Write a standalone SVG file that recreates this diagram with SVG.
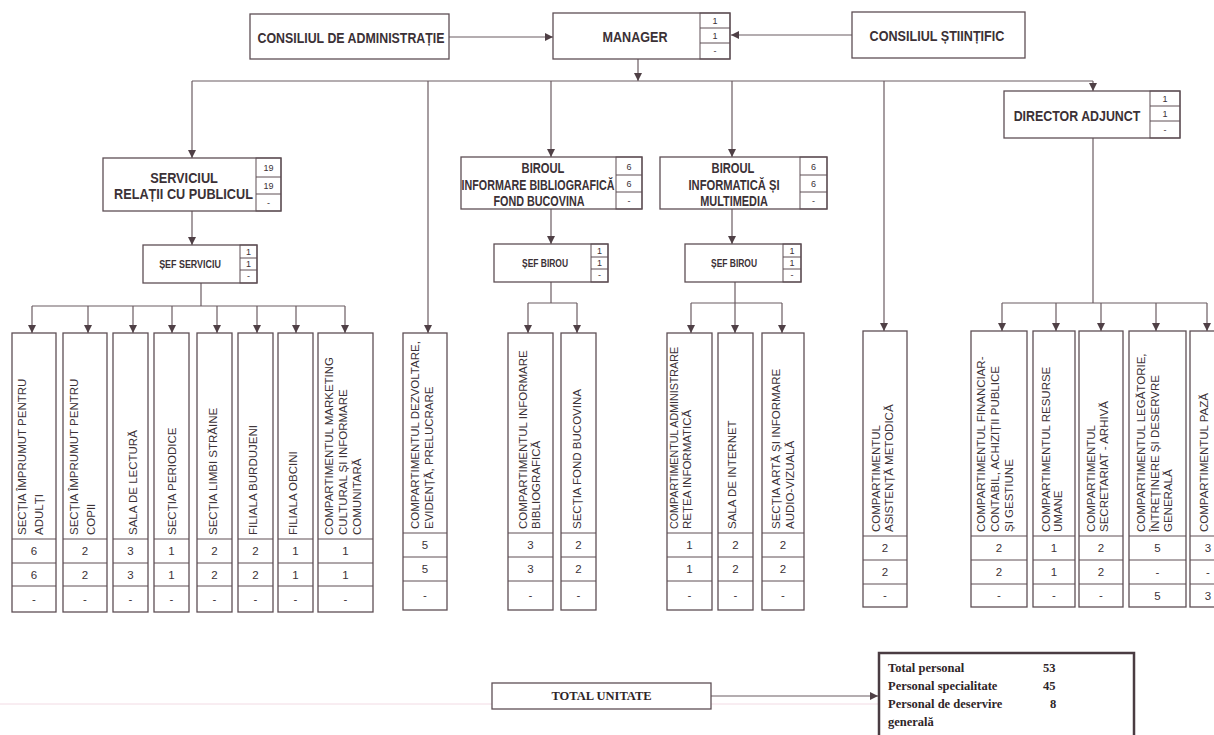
<svg xmlns="http://www.w3.org/2000/svg" width="1214" height="735" viewBox="0 0 1214 735">
<defs>
<style>
.b{fill:#fff;stroke:#5e4f55;stroke-width:1.3}
.d{fill:none;stroke:#5e4f55;stroke-width:1}
.c{fill:none;stroke:#6b5c62;stroke-width:1.2}
.t{font-family:'Liberation Sans',Arial,sans-serif;font-weight:bold;fill:#3b3136;text-anchor:middle}
.v{font-family:'Liberation Sans',Arial,sans-serif;font-size:11.5px;fill:#3b3136}
.n{font-family:'Liberation Sans',Arial,sans-serif;font-size:11.5px;fill:#3b3136;text-anchor:middle}
.s{font-family:'Liberation Sans',Arial,sans-serif;font-size:9px;fill:#3b3136;text-anchor:middle}
.tb{font-family:'Liberation Serif','Times New Roman',serif;font-weight:bold;font-size:12.5px;fill:#2e2528}
</style>
<marker id="ah" viewBox="0 0 10 10" refX="10" refY="5" markerWidth="10" markerHeight="8" orient="auto" markerUnits="userSpaceOnUse"><path d="M0,0 L10,5 L0,10 z" fill="#4f4046"/></marker>
</defs>
<rect width="1214" height="735" fill="#fff"/>
<line x1="0" y1="704" x2="878" y2="704" stroke="#f2dbe4" stroke-width="1"/>

<g id="connectors" class="c">
<path d="M449,37 H553" marker-end="url(#ah)"/>
<path d="M852,35 H731" marker-end="url(#ah)"/>
<path d="M638,59 V81" marker-end="url(#ah)"/>
<path d="M192,81 H1093"/>
<path d="M192,81 V158" marker-end="url(#ah)"/>
<path d="M1093,81 V91" marker-end="url(#ah)"/>
<path d="M428,81 V333" marker-end="url(#ah)"/>
<path d="M551,81 V157" marker-end="url(#ah)"/>
<path d="M732,81 V157" marker-end="url(#ah)"/>
<path d="M884,81 V331" marker-end="url(#ah)"/>
<path d="M192,211 V245" marker-end="url(#ah)"/>
<path d="M201,283 V306"/>
<path d="M32,306 H345"/>
<path d="M32,306 V333" marker-end="url(#ah)"/>
<path d="M88,306 V333" marker-end="url(#ah)"/>
<path d="M133,306 V333" marker-end="url(#ah)"/>
<path d="M172,306 V333" marker-end="url(#ah)"/>
<path d="M217,306 V333" marker-end="url(#ah)"/>
<path d="M257,306 V333" marker-end="url(#ah)"/>
<path d="M296,306 V333" marker-end="url(#ah)"/>
<path d="M345,306 V333" marker-end="url(#ah)"/>
<path d="M551,209 V244" marker-end="url(#ah)"/>
<path d="M551,282 V303"/>
<path d="M528,303 H577"/>
<path d="M528,303 V333" marker-end="url(#ah)"/>
<path d="M577,303 V333" marker-end="url(#ah)"/>
<path d="M732,209 V244" marker-end="url(#ah)"/>
<path d="M735,282 V303"/>
<path d="M691,303 H782"/>
<path d="M691,303 V333" marker-end="url(#ah)"/>
<path d="M735,303 V333" marker-end="url(#ah)"/>
<path d="M782,303 V333" marker-end="url(#ah)"/>
<path d="M1093,138 V303"/>
<path d="M1002,303 H1207"/>
<path d="M1002,303 V331" marker-end="url(#ah)"/>
<path d="M1056,303 V331" marker-end="url(#ah)"/>
<path d="M1101,303 V331" marker-end="url(#ah)"/>
<path d="M1156,303 V331" marker-end="url(#ah)"/>
<path d="M1207,303 V331" marker-end="url(#ah)"/>
<path d="M711,696 H878" marker-end="url(#ah)"/>
</g>

<g id="consiliul-administratie">
<rect class="b" x="250" y="14" width="199" height="45"/>
<text class="t" font-size="15" transform="translate(351,42.5) scale(0.826,1)">CONSILIUL DE ADMINISTRAȚIE</text>
</g>
<g id="manager">
<rect class="b" x="553" y="13" width="177" height="46"/>
<rect class="d" x="700" y="13" width="30" height="46"/>
<path class="d" d="M700,28 H730 M700,43 H730"/>
<text class="t" font-size="15" transform="translate(635,42) scale(0.84,1)">MANAGER</text>
<text class="s" x="715" y="24">1</text><text class="s" x="715" y="39">1</text><text class="s" x="715" y="54">-</text>
</g>
<g id="consiliul-stiintific">
<rect class="b" x="852" y="12" width="173" height="46"/>
<text class="t" font-size="15" transform="translate(937,40.5) scale(0.84,1)">CONSILIUL ȘTIINȚIFIC</text>
</g>
<g id="director-adjunct">
<rect class="b" x="1004" y="91" width="176" height="47"/>
<rect class="d" x="1150" y="91" width="30" height="47"/>
<path class="d" d="M1150,106 H1180 M1150,121 H1180"/>
<text class="t" font-size="15" transform="translate(1077,121) scale(0.827,1)">DIRECTOR ADJUNCT</text>
<text class="s" x="1165" y="102">1</text><text class="s" x="1165" y="117">1</text><text class="s" x="1165" y="133">-</text>
</g>
<g id="serviciul">
<rect class="b" x="103" y="158" width="178" height="53"/>
<rect class="d" x="256" y="158" width="25" height="53"/>
<path class="d" d="M256,177 H281 M256,194 H281"/>
<text class="t" font-size="14.5" transform="translate(184,183) scale(0.88,1)">SERVICIUL</text>
<text class="t" font-size="14.5" transform="translate(183.5,198.5) scale(0.876,1)">RELAȚII CU PUBLICUL</text>
<text class="s" x="268.5" y="171" font-size="10">19</text><text class="s" x="268.5" y="189" font-size="10">19</text><text class="s" x="268.5" y="206">-</text>
</g>
<g id="sef-serviciu">
<rect class="b" x="143" y="245" width="114" height="38"/>
<rect class="d" x="240" y="245" width="17" height="38"/>
<path class="d" d="M240,258 H257 M240,270 H257"/>
<text class="t" font-size="11" transform="translate(190,268) scale(0.81,1)">ȘEF SERVICIU</text>
<text class="s" x="248.5" y="255" font-size="8">1</text><text class="s" x="248.5" y="267" font-size="8">1</text><text class="s" x="248.5" y="279" font-size="8">-</text>
</g>
<g id="biroul-informare">
<rect class="b" x="461" y="157" width="181" height="52"/>
<rect class="d" x="616" y="157" width="26" height="52"/>
<path class="d" d="M616,175 H642 M616,192 H642"/>
<text class="t" font-size="14" transform="translate(543,173) scale(0.8,1)">BIROUL</text>
<text class="t" font-size="14" transform="translate(538,190) scale(0.765,1)">INFORMARE BIBLIOGRAFICĂ</text>
<text class="t" font-size="14" transform="translate(539,206) scale(0.77,1)">FOND BUCOVINA</text>
<text class="s" x="629" y="170">6</text><text class="s" x="629" y="187">6</text><text class="s" x="629" y="204">-</text>
</g>
<g id="biroul-informatica">
<rect class="b" x="660" y="157" width="167" height="52"/>
<rect class="d" x="800" y="157" width="27" height="52"/>
<path class="d" d="M800,175 H827 M800,192 H827"/>
<text class="t" font-size="14" transform="translate(733,173) scale(0.8,1)">BIROUL</text>
<text class="t" font-size="14" transform="translate(734,190) scale(0.8,1)">INFORMATICĂ ȘI</text>
<text class="t" font-size="14" transform="translate(734,206) scale(0.78,1)">MULTIMEDIA</text>
<text class="s" x="813.5" y="170">6</text><text class="s" x="813.5" y="187">6</text><text class="s" x="813.5" y="204">-</text>
</g>
<g id="sef-birou-1">
<rect class="b" x="494" y="244" width="114" height="38"/>
<rect class="d" x="591" y="244" width="17" height="38"/>
<path class="d" d="M591,257 H608 M591,269 H608"/>
<text class="t" font-size="11" transform="translate(545,267) scale(0.77,1)">ȘEF BIROU</text>
<text class="s" x="599.5" y="254" font-size="8">1</text><text class="s" x="599.5" y="266" font-size="8">1</text><text class="s" x="599.5" y="278" font-size="8">-</text>
</g>
<g id="sef-birou-2">
<rect class="b" x="685" y="244" width="116" height="38"/>
<rect class="d" x="783" y="244" width="18" height="38"/>
<path class="d" d="M783,257 H801 M783,269 H801"/>
<text class="t" font-size="11" transform="translate(734,267) scale(0.77,1)">ȘEF BIROU</text>
<text class="s" x="792" y="254" font-size="8">1</text><text class="s" x="792" y="266" font-size="8">1</text><text class="s" x="792" y="278" font-size="8">-</text>
</g>

<g id="col-adulti">
<rect class="b" x="12" y="333" width="44" height="279"/>
<path class="d" d="M12,539 H56 M12,563 H56 M12,586 H56"/>
<text class="v" transform="translate(26,535) rotate(-90)">SECȚIA ÎMPRUMUT PENTRU<tspan x="0" dy="17">ADULȚI</tspan></text>
<text class="n" x="34" y="555">6</text><text class="n" x="34" y="579">6</text><text class="n" x="34" y="603">-</text>
</g>
<g id="col-copii">
<rect class="b" x="63" y="333" width="44" height="279"/>
<path class="d" d="M63,539 H107 M63,563 H107 M63,586 H107"/>
<text class="v" transform="translate(78,535) rotate(-90)">SECȚIA ÎMPRUMUT PENTRU<tspan x="0" dy="17">COPII</tspan></text>
<text class="n" x="85" y="555">2</text><text class="n" x="85" y="579">2</text><text class="n" x="85" y="603">-</text>
</g>
<g id="col-lectura">
<rect class="b" x="113" y="333" width="35" height="279"/>
<path class="d" d="M113,539 H148 M113,563 H148 M113,586 H148"/>
<text class="v" transform="translate(137,535) rotate(-90)">SALA DE LECTURĂ</text>
<text class="n" x="130.5" y="555">3</text><text class="n" x="130.5" y="579">3</text><text class="n" x="130.5" y="603">-</text>
</g>
<g id="col-periodice">
<rect class="b" x="154" y="333" width="35" height="279"/>
<path class="d" d="M154,539 H189 M154,563 H189 M154,586 H189"/>
<text class="v" transform="translate(176,535) rotate(-90)">SECȚIA PERIODICE</text>
<text class="n" x="171.5" y="555">1</text><text class="n" x="171.5" y="579">1</text><text class="n" x="171.5" y="603">-</text>
</g>
<g id="col-limbi">
<rect class="b" x="197" y="333" width="35" height="279"/>
<path class="d" d="M197,539 H232 M197,563 H232 M197,586 H232"/>
<text class="v" transform="translate(217,535) rotate(-90)">SECȚIA LIMBI STRĂINE</text>
<text class="n" x="214.5" y="555">2</text><text class="n" x="214.5" y="579">2</text><text class="n" x="214.5" y="603">-</text>
</g>
<g id="col-burdujeni">
<rect class="b" x="238" y="333" width="35" height="279"/>
<path class="d" d="M238,539 H273 M238,563 H273 M238,586 H273"/>
<text class="v" transform="translate(257,535) rotate(-90)">FILIALA BURDUJENI</text>
<text class="n" x="255.5" y="555">2</text><text class="n" x="255.5" y="579">2</text><text class="n" x="255.5" y="603">-</text>
</g>
<g id="col-obcini">
<rect class="b" x="278" y="333" width="35" height="279"/>
<path class="d" d="M278,539 H313 M278,563 H313 M278,586 H313"/>
<text class="v" transform="translate(297,535) rotate(-90)">FILIALA OBCINI</text>
<text class="n" x="295.5" y="555">1</text><text class="n" x="295.5" y="579">1</text><text class="n" x="295.5" y="603">-</text>
</g>
<g id="col-marketing">
<rect class="b" x="318" y="333" width="55" height="279"/>
<path class="d" d="M318,539 H373 M318,563 H373 M318,586 H373"/>
<text class="v" transform="translate(333,535) rotate(-90)">COMPARTIMENTUL MARKETING<tspan x="0" dy="14">CULTURAL ȘI INFORMARE</tspan><tspan x="0" dy="14">COMUNITARĂ</tspan></text>
<text class="n" x="345.5" y="555">1</text><text class="n" x="345.5" y="579">1</text><text class="n" x="345.5" y="603">-</text>
</g>

<g id="col-dezvoltare">
<rect class="b" x="403" y="333" width="44" height="277"/>
<path class="d" d="M403,533 H447 M403,557 H447 M403,581 H447"/>
<text class="v" transform="translate(419,529) rotate(-90)">COMPARTIMENTUL DEZVOLTARE,<tspan x="0" dy="14">EVIDENȚĂ, PRELUCRARE</tspan></text>
<text class="n" x="425" y="549">5</text><text class="n" x="425" y="573">5</text><text class="n" x="425" y="599">-</text>
</g>
<g id="col-informare-bibliografica">
<rect class="b" x="508" y="333" width="45" height="277"/>
<path class="d" d="M508,533 H553 M508,557 H553 M508,581 H553"/>
<text class="v" transform="translate(527,529) rotate(-90)">COMPARTIMENTUL INFORMARE<tspan x="0" dy="13">BIBLIOGRAFICĂ</tspan></text>
<text class="n" x="530.5" y="549">3</text><text class="n" x="530.5" y="573">3</text><text class="n" x="530.5" y="599">-</text>
</g>
<g id="col-fond-bucovina">
<rect class="b" x="561" y="333" width="35" height="277"/>
<path class="d" d="M561,533 H596 M561,557 H596 M561,581 H596"/>
<text class="v" transform="translate(581,529) rotate(-90)">SECȚIA FOND BUCOVINA</text>
<text class="n" x="578.5" y="549">2</text><text class="n" x="578.5" y="573">2</text><text class="n" x="578.5" y="599">-</text>
</g>
<g id="col-retea">
<rect class="b" x="667" y="333" width="45" height="277"/>
<path class="d" d="M667,533 H712 M667,557 H712 M667,581 H712"/>
<text class="v" transform="translate(678,529) rotate(-90) scale(0.93,1)">COMPARTIMENTUL ADMINISTRARE</text>
<text class="v" transform="translate(691,529) rotate(-90)">REȚEA INFORMATICĂ</text>
<text class="n" x="689.5" y="549">1</text><text class="n" x="689.5" y="573">1</text><text class="n" x="689.5" y="599">-</text>
</g>
<g id="col-internet">
<rect class="b" x="718" y="333" width="35" height="277"/>
<path class="d" d="M718,533 H753 M718,557 H753 M718,581 H753"/>
<text class="v" transform="translate(736,529) rotate(-90)">SALA DE INTERNET</text>
<text class="n" x="735.5" y="549">2</text><text class="n" x="735.5" y="573">2</text><text class="n" x="735.5" y="599">-</text>
</g>
<g id="col-arta">
<rect class="b" x="762" y="333" width="42" height="277"/>
<path class="d" d="M762,533 H804 M762,557 H804 M762,581 H804"/>
<text class="v" transform="translate(780,529) rotate(-90)">SECȚIA ARTĂ ȘI INFORMARE<tspan x="0" dy="14">AUDIO-VIZUALĂ</tspan></text>
<text class="n" x="783" y="549">2</text><text class="n" x="783" y="573">2</text><text class="n" x="783" y="599">-</text>
</g>

<g id="col-asistenta">
<rect class="b" x="863" y="331" width="44" height="276"/>
<path class="d" d="M863,536 H907 M863,560 H907 M863,584 H907"/>
<text class="v" transform="translate(880,532) rotate(-90)">COMPARTIMENTUL<tspan x="0" dy="13">ASISTENȚĂ METODICĂ</tspan></text>
<text class="n" x="885" y="552">2</text><text class="n" x="885" y="576">2</text><text class="n" x="885" y="599">-</text>
</g>
<g id="col-financiar">
<rect class="b" x="971" y="331" width="56" height="276"/>
<path class="d" d="M971,536 H1027 M971,560 H1027 M971,584 H1027"/>
<text class="v" transform="translate(985,532) rotate(-90)">COMPARTIMENTUL FINANCIAR-<tspan x="0" dy="14">CONTABIL, ACHIZIȚII PUBLICE</tspan><tspan x="0" dy="14">ȘI GESTIUNE</tspan></text>
<text class="n" x="999" y="552">2</text><text class="n" x="999" y="576">2</text><text class="n" x="999" y="599">-</text>
</g>
<g id="col-resurse-umane">
<rect class="b" x="1033" y="331" width="42" height="276"/>
<path class="d" d="M1033,536 H1075 M1033,560 H1075 M1033,584 H1075"/>
<text class="v" transform="translate(1050,532) rotate(-90)">COMPARTIMENTUL RESURSE<tspan x="0" dy="12">UMANE</tspan></text>
<text class="n" x="1054" y="552">1</text><text class="n" x="1054" y="576">1</text><text class="n" x="1054" y="599">-</text>
</g>
<g id="col-secretariat">
<rect class="b" x="1079" y="331" width="44" height="276"/>
<path class="d" d="M1079,536 H1123 M1079,560 H1123 M1079,584 H1123"/>
<text class="v" transform="translate(1095,532) rotate(-90)">COMPARTIMENTUL<tspan x="0" dy="13">SECRETARIAT - ARHIVĂ</tspan></text>
<text class="n" x="1101" y="552">2</text><text class="n" x="1101" y="576">2</text><text class="n" x="1101" y="599">-</text>
</g>
<g id="col-legatorie">
<rect class="b" x="1129" y="331" width="57" height="276"/>
<path class="d" d="M1129,536 H1186 M1129,560 H1186 M1129,584 H1186"/>
<text class="v" transform="translate(1145,532) rotate(-90)">COMPARTIMENTUL LEGĂTORIE,<tspan x="0" dy="14">ÎNTREȚINERE ȘI DESERVRE</tspan><tspan x="0" dy="13">GENERALĂ</tspan></text>
<text class="n" x="1157.5" y="552">5</text><text class="n" x="1157.5" y="576">-</text><text class="n" x="1157.5" y="600">5</text>
</g>
<g id="col-paza">
<rect class="b" x="1190" y="331" width="40" height="276"/>
<path class="d" d="M1190,536 H1230 M1190,560 H1230 M1190,584 H1230"/>
<text class="v" transform="translate(1208,532) rotate(-90)">COMPARTIMENTUL PAZĂ</text>
<text class="n" x="1208" y="552">3</text><text class="n" x="1208" y="576">-</text><text class="n" x="1208" y="600">3</text>
</g>

<g id="total-unitate">
<rect class="b" x="492" y="683" width="219" height="26"/>
<text class="tb" x="601.5" y="700" text-anchor="middle" font-size="12">TOTAL UNITATE</text>
</g>
<g id="totaluri">
<rect x="879" y="653" width="255" height="95" fill="#fff" stroke="#4a3c42" stroke-width="2.5"/>
<text class="tb" x="888" y="672">Total personal</text><text class="tb" x="1043" y="672">53</text>
<text class="tb" x="888" y="690">Personal specialitate</text><text class="tb" x="1043" y="690">45</text>
<text class="tb" x="888" y="708">Personal de deservire</text><text class="tb" x="1050" y="708">8</text>
<text class="tb" x="888" y="726">generală</text>
</g>
</svg>
